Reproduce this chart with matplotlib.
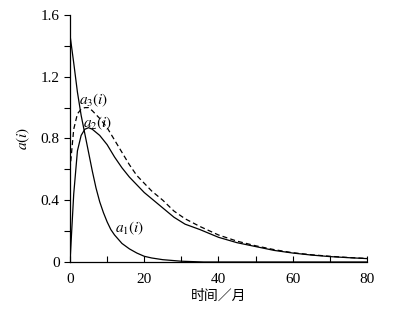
import matplotlib.pyplot as plt
from matplotlib.ticker import MultipleLocator

plt.rcParams['font.family'] = ['Liberation Serif', 'Noto Sans CJK SC', 'DejaVu Sans']
plt.rcParams['mathtext.fontset'] = 'stix'

# a1(i)
t1 = [0, 1, 2, 3, 4, 5, 6, 7, 8, 9, 10, 11, 12, 14, 16, 18, 20, 22, 25, 30, 36, 80]
a1 = [1.47, 1.29, 1.10, 0.95, 0.83, 0.71, 0.59, 0.48, 0.39, 0.32, 0.26, 0.21,
      0.175, 0.12, 0.085, 0.058, 0.037, 0.026, 0.015, 0.005, 0.0, 0.0]

# a2(i)
t2 = [0, 1, 2, 3, 4, 5, 6, 8, 10, 12, 14, 16, 18, 20, 22, 25, 28, 31, 35, 40,
      45, 50, 55, 60, 65, 70, 75, 80]
a2 = [0.0, 0.44, 0.72, 0.82, 0.86, 0.87, 0.86, 0.82, 0.76, 0.68, 0.61, 0.55, 0.50,
      0.45, 0.41, 0.35, 0.29, 0.245, 0.21, 0.16, 0.125, 0.10, 0.075, 0.058,
      0.045, 0.035, 0.028, 0.022]

# a3(i)
t3 = [0, 1, 2, 3, 4, 5, 6, 8, 10, 12, 14, 16, 18, 20, 22, 25, 28, 31, 35, 40,
      45, 50, 55, 60, 65, 70, 75, 80]
a3 = [0.60, 0.86, 0.96, 0.99, 1.0, 1.0, 0.98, 0.93, 0.87, 0.79, 0.71, 0.63, 0.56,
      0.51, 0.46, 0.40, 0.33, 0.28, 0.23, 0.175, 0.135, 0.105, 0.08, 0.06,
      0.047, 0.037, 0.029, 0.023]

xticks = [0, 20, 40, 60, 80]
yticks = [0, 0.4, 0.8, 1.2, 1.6]
ytick_labels = ['0', '0.4', '0.8', '1.2', '1.6']

fig = plt.figure(figsize=(4.13, 3.19), dpi=100)
ax = fig.add_axes([0.1695, 0.1787, 0.7191, 0.7743])

ax.plot(t1, a1, color='black', lw=0.9)
ax.plot(t2, a2, color='black', lw=0.9)
ax.plot(t3, a3, color='black', lw=0.9, ls=(0, (4, 2.5)))

ax.text(6.5, 1.05, '$a_3(i)$', fontsize=11, ha='center', va='center')
ax.text(7.4, 0.90, '$a_2(i)$', fontsize=11, ha='center', va='center')
ax.text(16.2, 0.22, '$a_1(i)$', fontsize=11, ha='center', va='center')

ax.set_xlim(0, 80)
ax.set_ylim(0, 1.6)
ax.set_xticks(xticks)
ax.set_xticklabels([str(v) for v in xticks])
ax.xaxis.set_minor_locator(MultipleLocator(10))
ax.set_yticks(yticks)
ax.set_yticklabels(ytick_labels)
ax.yaxis.set_minor_locator(MultipleLocator(0.2))

ax.tick_params(axis='x', which='both', direction='in', length=4, width=0.8,
               labelsize=11, pad=8)
ax.tick_params(axis='y', which='both', direction='out', length=4, width=0.8,
               labelsize=11)
for s in ['top', 'right']:
    ax.spines[s].set_visible(False)
for s in ['left', 'bottom']:
    ax.spines[s].set_linewidth(0.9)

ax.set_xlabel('时间／月', fontsize=10, family=['Noto Sans CJK SC'], labelpad=2)
ax.set_ylabel('$a(i)$', fontsize=11, labelpad=6)

fig.savefig('out.png', dpi=100)
